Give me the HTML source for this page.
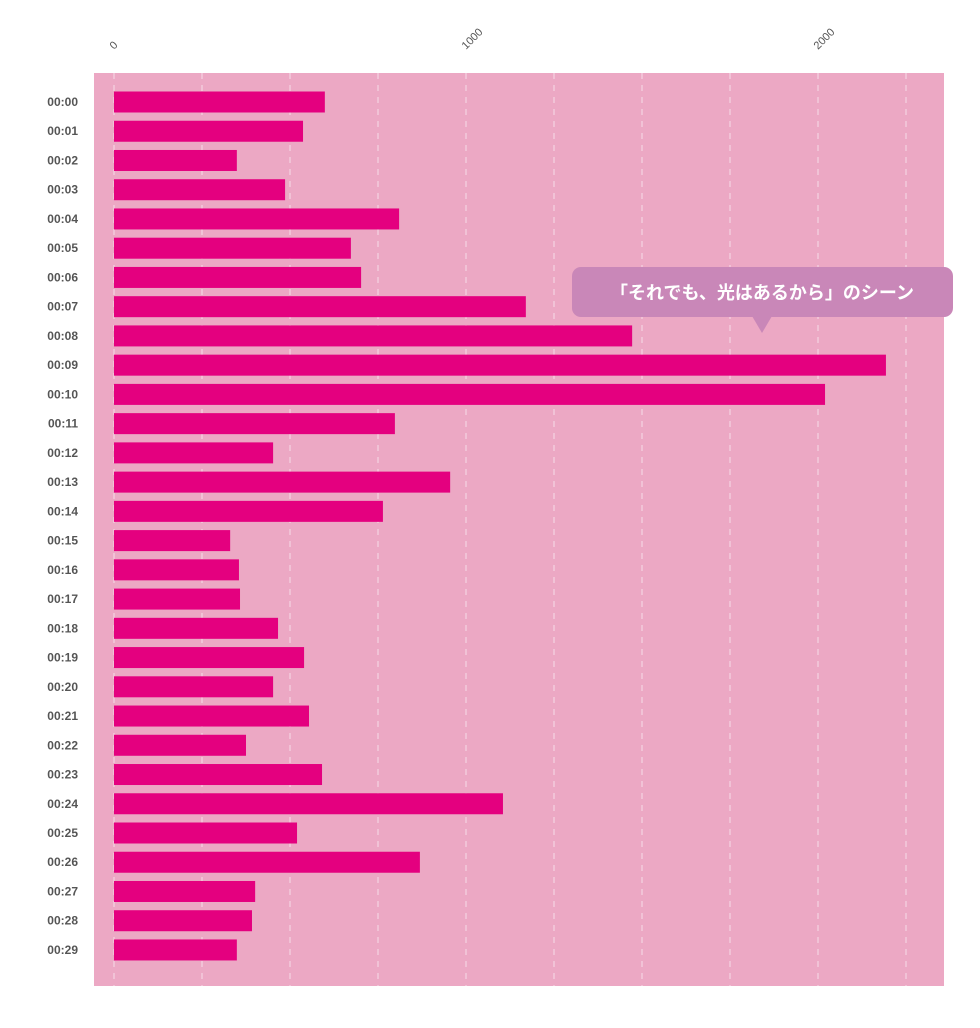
<!DOCTYPE html>
<html><head><meta charset="utf-8"><style>
body{margin:0;background:#fff;width:980px;height:1028px;overflow:hidden}
svg{display:block;font-family:"Liberation Sans","Noto Sans CJK JP",sans-serif}
</style></head><body>
<svg id="chart" width="980" height="1028">
<rect x="94" y="73" width="850" height="913" fill="#eca8c4"/>
<g id="grid"></g><g id="ticks"></g><g id="bars"></g><g id="labels"></g>
<g>
<rect x="572" y="267" width="381" height="50" rx="9" fill="#c987b8"/>
<polygon points="752,316 772,316 762,333" fill="#c987b8"/>
<text x="762" y="299" text-anchor="middle" fill="#fff" font-size="18" font-weight="bold">「それでも、光はあるから」のシーン</text>
</g>
</svg>
<script>
const categories=["00:00","00:01","00:02","00:03","00:04","00:05","00:06","00:07","00:08","00:09","00:10","00:11","00:12","00:13","00:14","00:15","00:16","00:17","00:18","00:19","00:20","00:21","00:22","00:23","00:24","00:25","00:26","00:27","00:28","00:29"];
const values=[599,537,349,486,810,673,702,1170,1472,2193,2020,798,452,955,764,330,355,358,466,540,452,554,375,591,1105,520,869,401,392,349];
const tickValues=[0,1000,2000];
const gridValues=[0,250,500,750,1000,1250,1500,1750,2000,2250];
const NS="http://www.w3.org/2000/svg";
const x=v=>114+v*0.352;
const y=i=>102+i*29.24;
function mk(t,a,p){const e=document.createElementNS(NS,t);for(const k in a)e.setAttribute(k,a[k]);p.appendChild(e);return e;}
const grid=document.getElementById('grid'),ticks=document.getElementById('ticks'),bars=document.getElementById('bars'),labels=document.getElementById('labels');
gridValues.forEach(v=>{const l=mk('line',{x1:x(v),x2:x(v),y1:73,y2:986,stroke:'#f6dce8','stroke-width':1,'stroke-dasharray':'6,6'},grid);

});
tickValues.forEach(v=>{const t=mk('text',{x:x(v),y:50,'font-size':11,fill:'#555',transform:`rotate(-45 ${x(v)} 50)`},ticks);t.textContent=v;

});
categories.forEach((c,i)=>{const r=mk('rect',{x:x(0),y:y(i)-10.5,width:x(values[i])-x(0),height:21,fill:'#e4007f'},bars);


const t=mk('text',{x:78,y:y(i)+4,'text-anchor':'end','font-size':12,'font-weight':'bold',fill:'#555'},labels);t.textContent=c;

});
</script>
</body></html>
